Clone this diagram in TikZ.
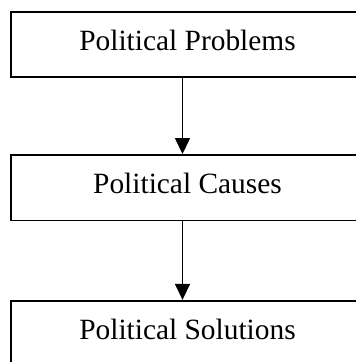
\documentclass[tikz,border=0pt]{standalone}
\usepackage{fontspec}
\setmainfont{Liberation Serif}
\usetikzlibrary{arrows.meta}
\begin{document}
\begin{tikzpicture}[x=1pt,y=1pt,
  box/.style={draw=black, line width=1.8pt, rectangle, minimum width=353pt, minimum height=65.5pt,
    inner sep=0pt, font=\fontsize{29.4}{31}\selectfont, text height=12pt, text depth=0pt},
  conn/.style={line width=1.5pt, -{Triangle[width=15pt,length=16pt]}}]
\useasboundingbox (0,0) rectangle (356,362);
\node[box] (b1) at (187.5,362-44.5) {Political Problems};
\node[box] (b2) at (187.5,362-187.7) {Political Causes};
\node[box] (b3) at (187.5,362-333.5) {Political Solutions};
\draw[conn] ([xshift=-5pt]b1.south) -- ([xshift=-5pt]b2.north);
\draw[conn] ([xshift=-5pt]b2.south) -- ([xshift=-5pt]b3.north);
\end{tikzpicture}
\end{document}
